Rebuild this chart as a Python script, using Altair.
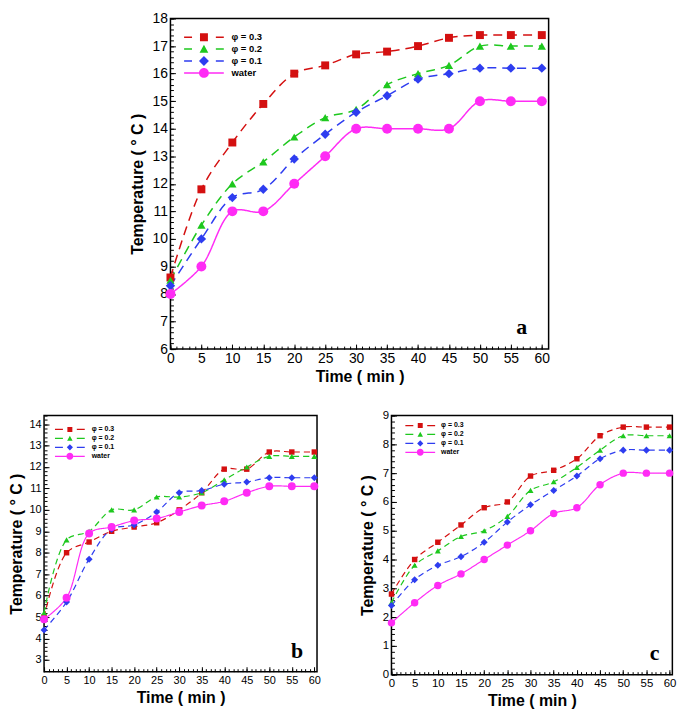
import altair as alt
import pandas as pd
import numpy as np

# ---------------- data ----------------
time = [0, 5, 10, 15, 20, 25, 30, 35, 40, 45, 50, 55, 60]
series_names = ["φ = 0.3", "φ = 0.2", "φ = 0.1", "water"]

a_phi03 = [8.6, 11.8, 13.5, 14.9, 16.0, 16.3, 16.7, 16.8, 17.0, 17.3, 17.4, 17.4, 17.4]
a_phi02 = [8.5, 10.5, 12.0, 12.8, 13.7, 14.4, 14.7, 15.6, 16.0, 16.3, 17.0, 17.0, 17.0]
a_phi01 = [8.3, 10.0, 11.5, 11.8, 12.9, 13.8, 14.6, 15.2, 15.8, 16.0, 16.2, 16.2, 16.2]
a_water = [8.0, 9.0, 11.0, 11.0, 12.0, 13.0, 14.0, 14.0, 14.0, 14.0, 15.0, 15.0, 15.0]

b_phi03 = [5.0, 8.0, 8.5, 9.0, 9.2, 9.4, 10.0, 10.8, 11.9, 11.9, 12.7, 12.7, 12.7]
b_phi02 = [5.2, 8.6, 9.0, 10.0, 10.0, 10.6, 10.6, 10.8, 11.4, 12.0, 12.5, 12.5, 12.5]
b_phi01 = [4.4, 5.7, 7.7, 9.1, 9.3, 9.9, 10.8, 10.9, 11.2, 11.3, 11.5, 11.5, 11.5]
b_water = [4.9, 5.9, 8.9, 9.2, 9.5, 9.6, 9.9, 10.2, 10.4, 10.8, 11.1, 11.1, 11.1]

c_phi03 = [2.8, 4.0, 4.6, 5.2, 5.8, 6.0, 6.9, 7.1, 7.5, 8.3, 8.6, 8.6, 8.6]
c_phi02 = [2.5, 3.8, 4.3, 4.8, 5.0, 5.5, 6.4, 6.7, 7.2, 7.8, 8.3, 8.3, 8.3]
c_phi01 = [2.4, 3.3, 3.8, 4.1, 4.6, 5.3, 5.9, 6.4, 6.9, 7.5, 7.8, 7.8, 7.8]
c_water = [1.8, 2.5, 3.1, 3.5, 4.0, 4.5, 5.0, 5.6, 5.8, 6.6, 7.0, 7.0, 7.0]

x_major = [0, 5, 10, 15, 20, 25, 30, 35, 40, 45, 50, 55, 60]
a_y_major = [6, 7, 8, 9, 10, 11, 12, 13, 14, 15, 16, 17, 18]
b_y_major = [3, 4, 5, 6, 7, 8, 9, 10, 11, 12, 13, 14]
c_y_major = [0, 1, 2, 3, 4, 5, 6, 7, 8, 9]

# ---------------- styles ----------------
colors = ["#d41010", "#1ec81e", "#2e3df0", "#ff2bf5"]
marker_shapes = ["square", "triangle-up", "diamond", "circle"]
FONT = "Liberation Sans"


def legend_paths(L, d, t, r):
    sq = f"M{-L},{-t}H{-d}V{t}H{-L}Z M-1,-1H1V1H-1Z M{d},{-t}H{L}V{t}H{d}Z"
    tri = f"M{-L},{-t}H{-d}V{t}H{-L}Z M0,-1.1L1.1,0.9L-1.1,0.9Z M{d},{-t}H{L}V{t}H{d}Z"
    dia = f"M{-L},{-t}H{-d}V{t}H{-L}Z M0,-1.25L1.25,0L0,1.25L-1.25,0Z M{d},{-t}H{L}V{t}H{d}Z"
    wat = (f"M{-L},{-t}H{-r}V{t}H{-L}Z M{-r},0A{r},{r} 0 1,1 {r},0A{r},{r} 0 1,1 {-r},0Z "
           f"M{r},{-t}H{L}V{t}H{r}Z")
    return [sq, tri, dia, wat]


def panel(vals, ydom, ymajor, xmax, width, height, tick_font, msizes, lw, dash,
          leg_size, leg_paths, leg_x, leg_y, leg_font, leg_offset, leg_rowpad,
          ytitle_pad, xtitle_pad, letter, letter_dx, letter_dy, ymin_step=0.2):
    rows = []
    for name, arr in zip(series_names, vals):
        for t, v in zip(time, arr):
            rows.append({"time": t, "temp": v, "series": name})
    df = pd.DataFrame(rows)
    df["marker"] = df["series"].map(dict(zip(series_names, marker_shapes)))
    df["msize"] = df["series"].map(dict(zip(series_names, msizes)))

    xscale = alt.Scale(domain=[0, xmax], nice=False, zero=False)
    yscale = alt.Scale(domain=ydom, nice=False, zero=False)
    cscale = alt.Scale(domain=series_names, range=colors)

    x_minor = list(range(0, 61))
    y_minor = [round(v, 1) for v in np.arange(ymajor[0], ydom[1] + 1e-9, ymin_step)]

    major_x = alt.Axis(orient="bottom", values=x_major, offset=-5, tickSize=5,
                       tickColor="black", tickWidth=1, domain=False, grid=False,
                       labelFont=FONT, labelFontSize=tick_font, labelColor="black",
                       labelPadding=3, labelFlush=False, labelOverlap=False,
                       title="Time ( min )", titleFont=FONT, titleFontSize=16,
                       titleFontWeight="bold", titleColor="black", titlePadding=xtitle_pad)
    major_y = alt.Axis(orient="left", values=ymajor, offset=-5, tickSize=5,
                       tickColor="black", tickWidth=1, domain=False, grid=False,
                       labelFont=FONT, labelFontSize=tick_font, labelColor="black",
                       labelPadding=3, labelFlush=False, labelOverlap=False,
                       title="Temperature ( ° C )", titleFont=FONT, titleFontSize=16,
                       titleFontWeight="bold", titleColor="black", titlePadding=ytitle_pad)
    minor_x = alt.Axis(orient="bottom", values=x_minor, offset=-3, tickSize=3,
                       tickColor="black", tickWidth=1, domain=False, grid=False,
                       labels=False, title=None)
    minor_y = alt.Axis(orient="left", values=y_minor, offset=-3, tickSize=3,
                       tickColor="black", tickWidth=1, domain=False, grid=False,
                       labels=False, title=None)

    leg_kw = dict(title=None, orient="none", legendX=leg_x, legendY=leg_y,
                  symbolSize=leg_size, labelFont=FONT, labelFontSize=leg_font,
                  labelFontWeight="bold", labelColor="black", labelOffset=leg_offset,
                  rowPadding=leg_rowpad, padding=0, symbolStrokeWidth=0)
    legend_layer = alt.Chart(df).transform_filter("false").mark_point(
        filled=True, opacity=1, strokeWidth=0).encode(
        color=alt.Color("series:N", scale=cscale, legend=alt.Legend(**leg_kw)),
        shape=alt.Shape("series:N", scale=alt.Scale(domain=series_names, range=leg_paths),
                        legend=alt.Legend(**leg_kw)),
    )
    lines = alt.Chart(df).mark_line(interpolate="catmull-rom", strokeWidth=lw).encode(
        x=alt.X("time:Q", scale=xscale, axis=major_x),
        y=alt.Y("temp:Q", scale=yscale, axis=major_y),
        color=alt.Color("series:N", scale=cscale, legend=None),
        strokeDash=alt.StrokeDash("series:N",
                                  scale=alt.Scale(domain=series_names,
                                                  range=[dash, dash, dash, [1, 0]]),
                                  legend=None),
    )
    points = alt.Chart(df).mark_point(filled=True, opacity=1, strokeWidth=0).encode(
        x=alt.X("time:Q", scale=xscale, axis=minor_x),
        y=alt.Y("temp:Q", scale=yscale, axis=minor_y),
        color=alt.Color("series:N", scale=cscale, legend=None),
        shape=alt.Shape("marker:N", scale=None, legend=None),
        size=alt.Size("msize:Q", scale=None, legend=None),
    )
    txt = alt.Chart(pd.DataFrame({"lab": [letter]})).mark_text(
        font="Liberation Serif", fontWeight="bold", fontSize=22, align="center",
        baseline="middle", color="black").encode(
        text="lab:N", x=alt.value(width - letter_dx), y=alt.value(height - letter_dy))

    return alt.layer(legend_layer, lines, points, txt).resolve_axis(
        x="independent", y="independent").properties(width=width, height=height)


pa = panel([a_phi03, a_phi02, a_phi01, a_water], [6, 18], a_y_major, 61.1,
           381, 333, 14, [64, 70, 90, 100], 1.5, [9, 6],
           64, legend_paths(5, 3, 0.19, 1.25), 29, 14, 9.5, 23, 1,
           7, 3, "a", 27, 22)
pb = panel([b_phi03, b_phi02, b_phi01, b_water], [2.45, 14.4], b_y_major, 60.6,
           275, 258, 11, [30, 36, 50, 64], 1.2, [6, 4],
           25, legend_paths(6, 2.8, 0.25, 1.4), 22.5, 10.5, 7, 18.5, 1,
           4, 4, "b", 20, 21)
pc = panel([c_phi03, c_phi02, c_phi01, c_water], [0, 9], c_y_major, 60.6,
           283, 261, 11.5, [30, 36, 50, 56], 1.2, [6, 4],
           25, legend_paths(6, 2.8, 0.25, 1.4), 25.5, 6.5, 7, 17.5, 1,
           7, 4, "c", 18, 22)

indep_scales = dict(color="independent", shape="independent",
                    strokeDash="independent", size="independent")
indep_legends = dict(color="independent", shape="independent")

bottom = alt.hconcat(pb, pc, spacing=36).resolve_scale(**indep_scales).resolve_legend(**indep_legends)
chart = alt.vconcat(pa, bottom, spacing=23, center=True).resolve_scale(
    **indep_scales).resolve_legend(**indep_legends).properties(
    padding={"left": 0, "top": 0, "right": 0, "bottom": 0}
).configure_view(stroke="black", strokeWidth=1.5)

chart.save("out.html", embed_options={"renderer": "svg", "actions": False})
